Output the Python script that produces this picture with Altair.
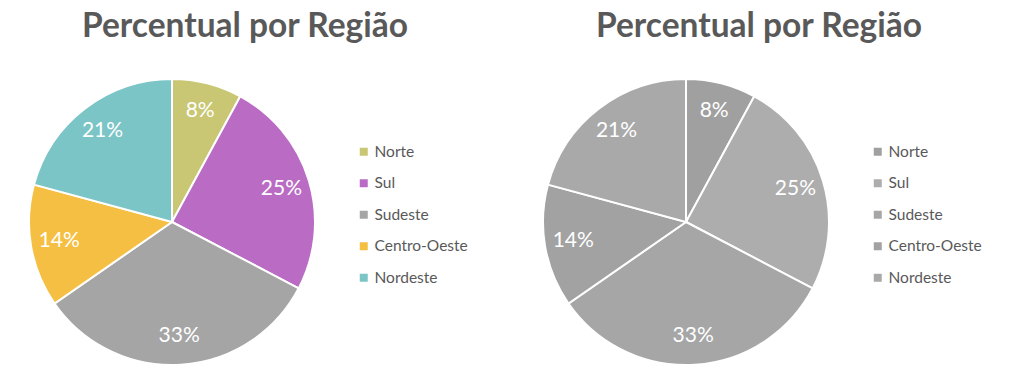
import altair as alt
import pandas as pd

regioes = ["Norte", "Sul", "Sudeste", "Centro-Oeste", "Nordeste"]
valores = [8, 25, 33, 14, 21]
rotulos = ["8%", "25%", "33%", "14%", "21%"]
cores = ["#C9C774", "#BA6BC4", "#A5A5A5", "#F5BF43", "#7BC5C7"]
cinzas = ["#A0A0A0", "#ADADAD", "#A6A6A6", "#A2A2A2", "#A9A9A9"]
titulo = "Percentual por Região"

df = pd.DataFrame({"Região": regioes, "valor": valores, "rotulo": rotulos,
                   "ordem": list(range(len(regioes)))})

R = 143
FONT = "Lato"


def painel(paleta):
    base = alt.Chart(df).encode(
        theta=alt.Theta("valor:Q", stack=True),
        order=alt.Order("ordem:Q"),
        x=alt.value(R),
        y=alt.value(R),
    )
    arcs = base.mark_arc(radius=R, stroke="white", strokeWidth=2).encode(
        color=alt.Color(
            "Região:N",
            scale=alt.Scale(domain=regioes, range=paleta),
            sort=regioes,
            legend=alt.Legend(
                title=None,
                orient="none",
                legendX=327,
                legendY=65,
                symbolType="square",
                symbolSize=64,
                symbolStrokeWidth=0,
                labelFont=FONT,
                labelFontSize=15.5,
                labelColor="#595959",
                labelOffset=3,
                rowPadding=14.5,
            ),
        )
    )
    texts = base.mark_text(
        radius=R * 0.8, color="white", fontSize=21, font=FONT
    ).encode(text="rotulo:N")
    return (arcs + texts).properties(
        width=432,
        height=2 * R,
        view=alt.ViewBackground(stroke="transparent", strokeWidth=0),
        title=alt.TitleParams(
            titulo,
            font=FONT,
            fontSize=33.5,
            fontWeight="bold",
            color="#595959",
            anchor="middle",
            offset=31,
        ),
    )


chart = (
    alt.hconcat(painel(cores), painel(cinzas), spacing=71)
    .resolve_scale(color="independent")
    .properties(padding={"left": 17, "top": 1, "right": 0, "bottom": 0})
    .configure_view(strokeWidth=0, stroke="transparent")
    .configure(background="white")
)

chart.save("out.html", embed_options={"renderer": "svg", "actions": False})
